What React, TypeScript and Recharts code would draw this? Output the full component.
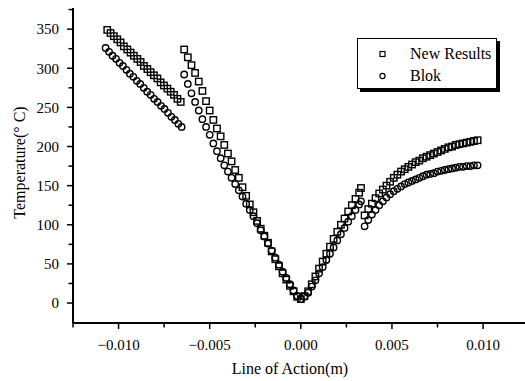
import React from 'react';
import { ScatterChart, Scatter, XAxis, YAxis, Legend } from 'recharts';

const FONT = "'Liberation Serif', 'Times New Roman', serif";

// New Results (squares), [x (m), temperature]
const newResultsFirst: [number, number][] = [
  [-0.01062, 349], [-0.01044, 345], [-0.01026, 341], [-0.01007, 337], [-0.00989, 333],
  [-0.00971, 328], [-0.00952, 324], [-0.00934, 320], [-0.00916, 316], [-0.00897, 312],
  [-0.00879, 308], [-0.00861, 303], [-0.00842, 299], [-0.00824, 295], [-0.00806, 291],
  [-0.00787, 287], [-0.00769, 282], [-0.00751, 278], [-0.00732, 274], [-0.00714, 270],
  [-0.00696, 266], [-0.00677, 261], [-0.00659, 257],
];
const newResultsApproach: [number, number][] = [
  [-0.0064, 324], [-0.0062, 314], [-0.006, 304], [-0.0058, 294], [-0.0056, 283],
  [-0.0054, 271], [-0.0052, 258], [-0.005, 246], [-0.0048, 234], [-0.0046, 223],
  [-0.0044, 213], [-0.0042, 202], [-0.004, 191], [-0.0038, 181], [-0.0036, 170],
  [-0.0034, 160], [-0.0032, 148], [-0.003, 137], [-0.0028, 126], [-0.0026, 116],
  [-0.0024, 105], [-0.0022, 95], [-0.002, 86], [-0.0018, 77], [-0.0016, 66],
  [-0.0014, 56], [-0.0012, 47], [-0.001, 38], [-0.0008, 30], [-0.0006, 22],
  [-0.0004, 15], [-0.0002, 8], [0, 5],
];
const newResultsRecess: [number, number][] = [
  [0.0002, 9], [0.0004, 15], [0.0006, 24], [0.0008, 34], [0.001, 44], [0.0012, 53],
  [0.0014, 63], [0.0016, 72], [0.0018, 82], [0.002, 91], [0.0022, 100], [0.0024, 108],
  [0.0026, 117], [0.0028, 125], [0.003, 133], [0.0032, 141], [0.0033, 147],
];
const newResultsLast: [number, number][] = [
  [0.0035, 112], [0.0037, 120], [0.0039, 127], [0.0041, 134], [0.0043, 140], [0.0045, 145],
  [0.0047, 150], [0.0049, 155], [0.0051, 160], [0.0053, 164], [0.0055, 168], [0.0057, 171],
  [0.0059, 174], [0.0061, 177], [0.0063, 180], [0.0065, 182], [0.0067, 185], [0.0069, 187],
  [0.0071, 189], [0.0073, 191], [0.0075, 193], [0.0077, 195], [0.0079, 197], [0.0081, 199],
  [0.0083, 200], [0.0085, 202], [0.0087, 203], [0.0089, 204], [0.0091, 205], [0.0093, 206],
  [0.0095, 207], [0.0097, 208],
];

// Blok (circles)
const blokFirst: [number, number][] = [
  [-0.01071, 326], [-0.01052, 321], [-0.01033, 316], [-0.01014, 312], [-0.00995, 307],
  [-0.00976, 303], [-0.00957, 298], [-0.00938, 293], [-0.00919, 289], [-0.009, 284],
  [-0.00881, 280], [-0.00862, 275], [-0.00843, 270], [-0.00824, 266], [-0.00805, 261],
  [-0.00786, 257], [-0.00767, 252], [-0.00748, 248], [-0.00729, 243], [-0.0071, 238],
  [-0.00691, 234], [-0.00672, 229], [-0.00654, 225],
];
const blokApproach: [number, number][] = [
  [-0.0064, 292], [-0.0062, 280], [-0.006, 268], [-0.0058, 257], [-0.0056, 246],
  [-0.0054, 235], [-0.0052, 225], [-0.005, 215], [-0.0048, 204], [-0.0046, 194],
  [-0.0044, 185], [-0.0042, 176], [-0.004, 168], [-0.0038, 160], [-0.0036, 152],
  [-0.0034, 144], [-0.0032, 136], [-0.003, 127], [-0.0028, 119], [-0.0026, 111],
  [-0.0024, 102], [-0.0022, 93], [-0.002, 85], [-0.0018, 76], [-0.0016, 67],
  [-0.0014, 58], [-0.0012, 49], [-0.001, 40], [-0.0008, 32], [-0.0006, 24],
  [-0.0004, 16], [-0.0002, 9], [0, 5],
];
const blokRecess: [number, number][] = [
  [0.0002, 8], [0.0004, 13], [0.0006, 21], [0.0008, 29], [0.001, 38], [0.0012, 46],
  [0.0014, 55], [0.0016, 63], [0.0018, 71], [0.002, 80], [0.0022, 88], [0.0024, 96],
  [0.0026, 104], [0.0028, 111], [0.003, 119], [0.0032, 126], [0.0033, 130],
];
const blokLast: [number, number][] = [
  [0.0035, 98], [0.0037, 106], [0.0039, 113], [0.0041, 119], [0.0043, 125], [0.0045, 130],
  [0.0047, 135], [0.0049, 139], [0.0051, 143], [0.0053, 146], [0.0055, 149], [0.0057, 152],
  [0.0059, 154], [0.0061, 156], [0.0063, 158], [0.0065, 160], [0.0067, 162], [0.0069, 164],
  [0.0071, 165], [0.0073, 166], [0.0075, 168], [0.0077, 169], [0.0079, 170], [0.0081, 171],
  [0.0083, 172], [0.0085, 173], [0.0087, 174], [0.0089, 174], [0.0091, 175], [0.0093, 175],
  [0.0095, 176], [0.0097, 176],
];

const xTicks = [-0.0125, -0.01, -0.0075, -0.005, -0.0025, 0, 0.0025, 0.005, 0.0075, 0.01];
const yTicks = [0, 25, 50, 75, 100, 125, 150, 175, 200, 225, 250, 275, 300, 325, 350, 375];

const toPoints = (...parts: [number, number][][]) =>
  parts.flat().map(([x, y]) => ({ x, y }));

const newResults = toPoints(newResultsFirst, newResultsApproach, newResultsRecess, newResultsLast);
const blok = toPoints(blokFirst, blokApproach, blokRecess, blokLast);

const isMajorX = (v: number) => Math.abs(v * 200 - Math.round(v * 200)) < 1e-6;
const fmtX = (v: number) => (v < -1e-9 ? '\u2212' : '') + Math.abs(v).toFixed(3);

const XTick = (props: any) => {
  const { x, y, payload } = props;
  const major = isMajorX(payload.value);
  return (
    <g>
      <line x1={x} x2={x} y1={y} y2={y + (major ? 6 : 4.5)} stroke="#000" strokeWidth={1.5} />
      {major && (
        <text x={x} y={y + 27} textAnchor="middle" fontSize={15} fontFamily={FONT} fill="#000">
          {fmtX(payload.value)}
        </text>
      )}
    </g>
  );
};

const YTick = (props: any) => {
  const { x, y, payload } = props;
  const major = payload.value % 50 === 0;
  return (
    <g>
      <line x1={x} x2={x - (major ? 6 : 4.5)} y1={y} y2={y} stroke="#000" strokeWidth={1.5} />
      {major && (
        <text x={x - 14} y={y} dy="0.35em" textAnchor="end" fontSize={15} fontFamily={FONT} fill="#000">
          {payload.value}
        </text>
      )}
    </g>
  );
};

const Square = (props: any) => (
  <rect x={props.cx - 3.2} y={props.cy - 3.2} width={6.4} height={6.4} fill="none" stroke="#000" strokeWidth={1.4} />
);
const Ring = (props: any) => (
  <circle cx={props.cx} cy={props.cy} r={3.2} fill="none" stroke="#000" strokeWidth={1.4} />
);

const LegendBox = () => (
  <div
    style={{
      width: 138,
      height: 49,
      border: '1px solid #000',
      boxShadow: '3px 3px 0 #000',
      background: '#fff',
      position: 'relative',
      fontFamily: FONT,
      fontSize: 16,
      color: '#000',
    }}
  >
    <svg width={12} height={50} style={{ position: 'absolute', left: 19, top: 0 }}>
      <rect x={3} y={12.5} width={5} height={5} fill="none" stroke="#000" strokeWidth={1.2} />
      <circle cx={5.5} cy={37} r={2.6} fill="none" stroke="#000" strokeWidth={1.2} />
    </svg>
    <div style={{ position: 'absolute', left: 52, top: 5, lineHeight: '20px' }}>New Results</div>
    <div style={{ position: 'absolute', left: 52, top: 27, lineHeight: '20px' }}>Blok</div>
  </div>
);

const XTitle = (props: any) => {
  const { viewBox } = props;
  return (
    <text x={viewBox.x + viewBox.width / 2 - 9} y={viewBox.y + 51} textAnchor="middle" fontSize={16} fontFamily={FONT} fill="#000">
      Line of Action(m)
    </text>
  );
};

const YTitle = (props: any) => {
  const { viewBox } = props;
  const cy = viewBox.y + viewBox.height / 2 - 3;
  return (
    <text x={19} y={cy} transform={`rotate(-90 19 ${cy})`} dy="0.35em" textAnchor="middle" fontSize={16} fontFamily={FONT} fill="#000">
      Temperature(° C)
    </text>
  );
};

export default function App() {
  return (
    <div style={{ position: 'absolute', left: 0, top: 0, width: 525, height: 381, background: '#fff' }}>
      <ScatterChart width={525} height={381} margin={{ top: 8, right: 0, bottom: 0, left: 0 }}>
        <XAxis
          type="number"
          dataKey="x"
          domain={[-0.0125, 0.0123]}
          ticks={xTicks}
          tick={<XTick />}
          tickSize={0}
          tickMargin={0}
          tickLine={false}
          height={58}
          interval={0}
          stroke="#000"
          axisLine={{ stroke: '#000', strokeWidth: 2 }}
          label={<XTitle />}
        />
        <YAxis
          type="number"
          dataKey="y"
          domain={[-25.5, 377]}
          ticks={yTicks}
          tick={<YTick />}
          tickSize={0}
          tickMargin={0}
          tickLine={false}
          width={73}
          interval={0}
          stroke="#000"
          axisLine={{ stroke: '#000', strokeWidth: 2 }}
          label={<YTitle />}
        />
        <Legend
          layout="horizontal"
          verticalAlign="middle"
          align="center"
          content={() => <LegendBox />}
          wrapperStyle={{ position: 'absolute', left: 357, top: 38, width: 141, height: 52 }}
        />
        <Scatter name="New Results" data={newResults} shape={<Square />} isAnimationActive={false} />
        <Scatter name="Blok" data={blok} shape={<Ring />} isAnimationActive={false} />
      </ScatterChart>
    </div>
  );
}
